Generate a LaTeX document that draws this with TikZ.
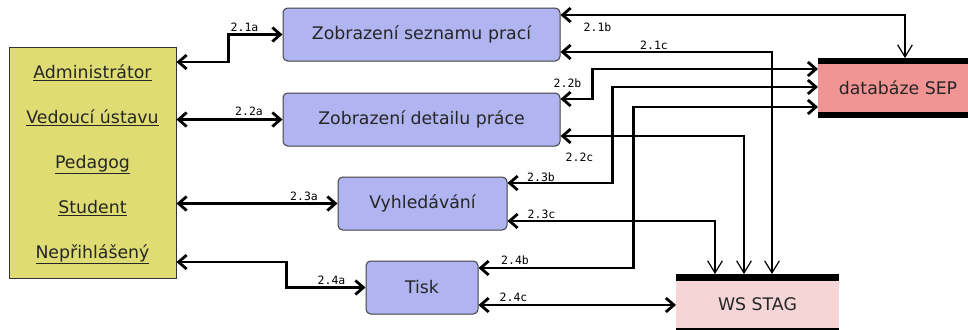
\documentclass[tikz,border=0pt]{standalone}
\usepackage{fontspec}
\setmainfont{DejaVu Sans}
\newfontfamily\labfont{DejaVu Sans Mono}
\usetikzlibrary{arrows.meta}
\definecolor{actyel}{RGB}{222,220,115}
\definecolor{problue}{RGB}{176,180,240}
\definecolor{sepred}{RGB}{240,148,148}
\definecolor{stagpink}{RGB}{245,213,213}
\tikzset{%
    act/.style={rectangle, draw=black!80, line width=0.75pt, fill=actyel, minimum width=125.25pt, minimum height=173.25pt},
    rol/.style={anchor=base, font=\fontsize{13}{15}\selectfont, text=black!85},
    pro/.style={rectangle, rounded corners=3.5pt, draw=black!75, line width=0.75pt, fill=problue, minimum height=39.75pt, font=\fontsize{13}{15}\selectfont, text=black!85},
    sto/.style={rectangle, inner sep=0pt, outer sep=0pt, minimum height=45pt, font=\fontsize{13}{15}\selectfont, text=black!85},
    lab/.style={inner sep=0pt, font=\labfont\fontsize{8.6}{9}\selectfont},
    fla/.style={line width=2.1pt, {Straight Barb[length=6pt,width=10.5pt]}-{Straight Barb[length=6pt,width=10.5pt]}},
    fld/.style={line width=2.1pt, {Straight Barb[length=6pt,width=10.5pt]}-{Straight Barb[length=9pt,width=11pt,line width=0.9pt]}},
}

\begin{document}
\begin{tikzpicture}[x=0.75pt, y=-0.75pt]
    \useasboundingbox (0,0) rectangle (968,329);
    % users
    \node[act] (actors) at (92.5,162.5) {};
    \foreach \nm/\txt/\yb in {adm/Administrátor/78, ved/Vedoucí ústavu/123, ped/Pedagog/168, stu/Student/213, nep/Nepřihlášený/258}
        \node[rol] (\nm) at (92.5,\yb) {\underline{\txt}};
    % processes
    \node[pro, minimum width=207.75pt] (p21) at (421.5,34.5) {Zobrazení seznamu prací};
    \node[pro, minimum width=207.75pt] (p22) at (421.5,119.5) {Zobrazení detailu práce};
    \node[pro, minimum width=126.75pt] (p23) at (422.5,203.5) {Vyhledávání};
    \node[pro, minimum width=84pt] (p24) at (422,287.5) {Tisk};
    % data stores
    \node[sto, fill=sepred, minimum width=120pt] (sep) at (898,88) {databáze SEP};
    \fill (sep.north west) rectangle ([yshift=-4.5pt]sep.north east);
    \fill (sep.south west) rectangle ([yshift=4.5pt]sep.south east);
    \node[sto, fill=stagpink, minimum width=122.25pt] (stag) at (757.5,304) {WS STAG};
    \fill (stag.north west) rectangle ([yshift=-5pt]stag.north east);
    \fill (stag.south west) rectangle ([yshift=4.5pt]stag.south east);

    % users <-> processes
    \draw[fla] (actors.east |- 0,62) -- ++(52,0) |- (p21.west);
    \draw[fla] (actors.east |- p22.west) -- (p22.west);
    \draw[fla] (actors.east |- p23.west) -- (p23.west);
    \draw[fla] (actors.east |- 0,262) -- ++(110,0) |- (p24.west);
    % processes <-> stores
    \draw[fld] (p21.east |- 0,15) -| (sep.north -| 905,0);
    \draw[fld] (p21.east |- 0,52) -| (stag.north -| 772,0);
    \draw[fla] (p22.east |- 0,99) -- ++(32,0) |- (sep.west |- 0,69);
    \draw[fld] (p22.east |- 0,136) -| (stag.north -| 744,0);
    \draw[fla] (p23.east |- 0,183) -- ++(105,0) |- (sep.west |- 0,87);
    \draw[fld] (p23.east |- 0,221) -| (stag.north -| 715,0);
    \draw[fla] (p24.east |- 0,268) -- ++(155,0) |- (sep.west |- 0,107);
    \draw[fla] (p24.east |- 0,305) -- (stag.west |- 0,305);

    % flow numbers
    \node[lab] (l21a) at (244.5,27) {2.1a};
    \node[lab] (l22a) at (249,111) {2.2a};
    \node[lab] (l23a) at (304,196) {2.3a};
    \node[lab] (l24a) at (331.5,280) {2.4a};
    \node[lab] (l21b) at (597.5,27) {2.1b};
    \node[lab] (l21c) at (654,45) {2.1c};
    \node[lab] (l22b) at (567.5,83) {2.2b};
    \node[lab] (l22c) at (579.5,157) {2.2c};
    \node[lab] (l23b) at (541,177) {2.3b};
    \node[lab] (l23c) at (541.5,214) {2.3c};
    \node[lab] (l24b) at (515,260) {2.4b};
    \node[lab] (l24c) at (513.5,297) {2.4c};
\end{tikzpicture}
\end{document}
